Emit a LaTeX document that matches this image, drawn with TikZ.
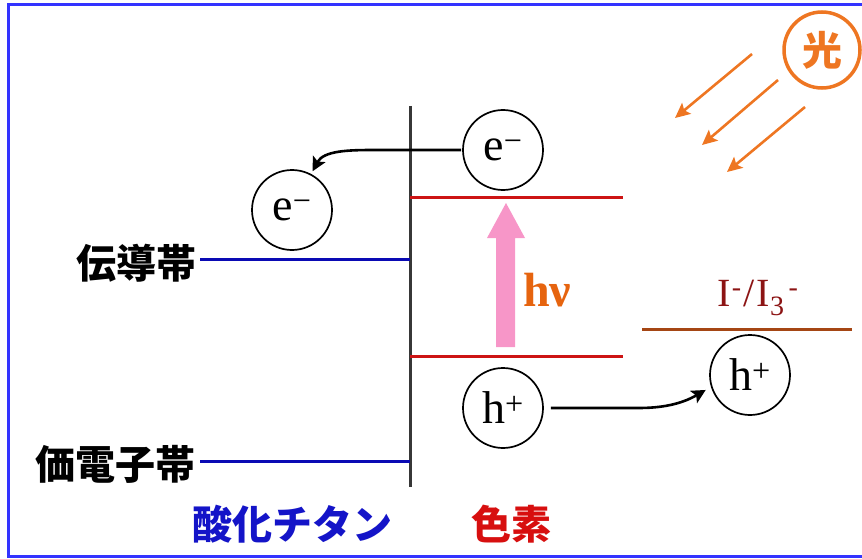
\documentclass[tikz,border=0pt]{standalone}
\usepackage{fontspec}
\setmainfont{Liberation Serif}
\newfontfamily\cjk{Noto Sans CJK JP}
\usetikzlibrary{arrows.meta}
\definecolor{frameblue}{RGB}{51,51,255}
\definecolor{axisgray}{RGB}{55,55,55}
\definecolor{levred}{RGB}{205,20,20}
\definecolor{levblue}{RGB}{10,10,180}
\definecolor{levbrown}{RGB}{165,70,20}
\definecolor{redoxc}{RGB}{140,20,20}
\definecolor{hnuc}{RGB}{230,100,15}
\definecolor{sunc}{RGB}{238,118,34}
\definecolor{pinkc}{RGB}{247,150,200}
\definecolor{tioc}{RGB}{20,20,200}
\definecolor{dyec}{RGB}{215,15,15}
\tikzset{
  particle/.style={circle, draw=black, line width=1.7pt, minimum size=80pt, inner sep=0pt,
    font=\fontsize{46}{48}\selectfont},
  jplabel/.style={inner sep=0pt, font=\cjk\bfseries\fontsize{40}{42}\selectfont},
  level/.style={line width=3pt},
  transfer/.style={line width=2.6pt, -{Stealth[length=14pt,width=14pt,inset=3pt]}},
  ray/.style={draw=sunc, line width=2.6pt, -{Stealth[length=15pt,width=14pt,inset=3pt]}}
}
\begin{document}
\begin{tikzpicture}[x=1pt,y=-1pt]
\useasboundingbox (0,0) rectangle (862,559);
% frame
\draw[frameblue, line width=3pt] (863,4.7) -- (8.5,4.7) -- (8.5,556.5) -- (863,556.5);
% interface
\draw[axisgray, line width=3.5pt] (410.5,106) -- (410.5,487);
% levels
\draw[level, levblue] (200,259) -- (410,259);
\draw[level, levblue] (200,461.5) -- (410,461.5);
\draw[level, levred] (410,197) -- (623,197);
\draw[level, levred] (410,356) -- (623,356);
\draw[level, levbrown] (642,329) -- (852,329);
% labels
\node[jplabel, anchor=east] (cb) at (197,263) {伝導帯};
\node[jplabel, anchor=east] (vb) at (196,464) {価電子帯};
\node[jplabel, text=tioc] (tio) at (292,524) {酸化チタン};
\node[jplabel, text=dyec] (dye) at (511,524) {色素};
% excitation arrow
\fill[pinkc] (496,347) -- (496,238) -- (487,238) -- (506,203) -- (525,238) -- (515,238) -- (515,347) -- cycle;
\node[inner sep=0pt, anchor=base west, text=hnuc, font=\bfseries\fontsize{48}{50}\selectfont] (hnu) at (523,306) {hν};
\node[inner sep=0pt, anchor=base, text=redoxc, font=\fontsize{40}{42}\selectfont] (redox) at (758,306)
  {I\kern1pt\textsuperscript{-}\kern2pt/\kern2ptI\textsubscript{3}\kern4pt\textsuperscript{-}};
% particles
\node[particle] (etop) at (503,150) {e\textsuperscript{\char"2212}};
\node[particle] (eleft) at (292,210) {e\textsuperscript{\char"2212}};
\node[particle] (hbot) at (503,408) {h\textsuperscript{+}};
\node[particle] (hright) at (750,375) {h\textsuperscript{+}};
% transfers
\draw[transfer, shorten <=1pt, shorten >=3pt] (etop.west) -- ++(-88,0) to[out=180,in=62] (eleft.62);
\draw[transfer, shorten <=7pt, shorten >=6pt] (hbot.east) -- ++(95,0) to[out=0,in=210] (hright.197);
% sun
\node[circle, draw=sunc, line width=3.5pt, minimum size=76pt, inner sep=0pt,
  text=sunc, font=\cjk\bfseries\fontsize{40}{42}\selectfont] (sun) at (822,50) {光};
\draw[ray] (752,54) -- (675,118);
\draw[ray] (778,80) -- (702,145);
\draw[ray] (805,107) -- (727,172);
\end{tikzpicture}
\end{document}
